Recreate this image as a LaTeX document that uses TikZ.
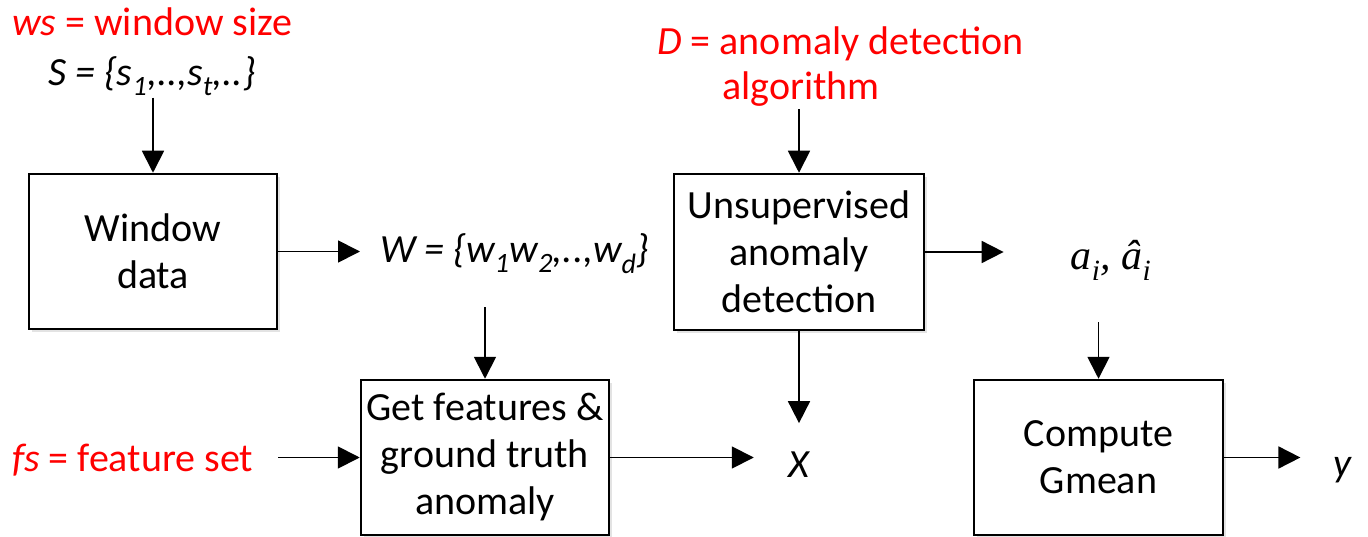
\documentclass[tikz,border=0pt]{standalone}
\usepackage{fontspec}
\setmainfont{Carlito}
\newfontfamily\mathlike{Liberation Serif}
\usetikzlibrary{arrows.meta,shadows}
\newcommand\bigf{\fontsize{40}{47}\selectfont}
\begin{document}
\begin{tikzpicture}[x=1pt,y=-1pt,
  box/.style={draw=black, line width=2.5pt, fill=white, align=center, font=\bigf,
    inner sep=0pt, drop shadow={opacity=0.22, shadow xshift=3pt, shadow yshift=-3pt}},
  lab/.style={font=\bigf, inner sep=2pt},
  redlab/.style={lab, text=red},
  arr/.style={line width=1.8pt, -{Triangle[length=22pt,width=22pt]}}]
\useasboundingbox (0,0) rectangle (1368,537);

% boxes
\node[box, minimum width=248pt, minimum height=155pt] (wd) at (153,251.5) {Window\\data};
\node[box, minimum width=248pt, minimum height=155pt] (gf) at (485,457.5) {Get features \&\\ground truth\\anomaly};
\node[box, minimum width=250pt, minimum height=156pt] (uad) at (799,252) {Unsupervised\\anomaly\\detection};
\node[box, minimum width=249pt, minimum height=155pt] (cg) at (1098.5,457.5) {Compute\\Gmean};

% labels
\node[redlab, anchor=base west] (ws) at (10,36) {\textit{ws} = window size};
\node[lab, anchor=base] (S) at (152,86) {\textit{S = \{s\textsubscript{1},..,s\textsubscript{t},..\}}};
\node[lab, anchor=base west] (W) at (378,263) {\textit{W = \{w\textsubscript{1}w\textsubscript{2},..,w\textsubscript{d}\}}};
\node[redlab, anchor=base west] (fs) at (10,471) {\textit{fs} = feature set};
\node[lab, anchor=base] (X) at (800,477) {\textit{X}};
\node[redlab, anchor=base west] (D1) at (655,55) {\textit{D} = anomaly detection};
\node[redlab, anchor=base west] (D2) at (720,100) {algorithm};
\node[lab, anchor=base, font=\mathlike\itshape\fontsize{42}{48}\selectfont] (a) at (1111,270) {a\textsubscript{i}, â\textsubscript{i}};
\node[lab, anchor=base] (y) at (1343,476) {\textit{y}};

% connectors
\draw[arr] (S.south -| wd.north) -- (wd.north);
\draw[arr] (wd.east) -- ([xshift=-18pt]W.west |- wd.east);
\draw[arr] ([yshift=-31pt]W.south -| gf.north) -- (gf.north);
\draw[arr] ([xshift=23pt]fs.east |- gf.west) -- (gf.west);
\draw[arr] (gf.east) -- ([xshift=-33pt]X.west |- gf.east);
\draw[arr] (D2.south -| uad.north) -- (uad.north);
\draw[arr] (uad.south) -- ([yshift=26pt]X.north -| uad.south);
\draw[arr] (uad.east) -- ([xshift=-65pt]a.west |- uad.east);
\draw[arr] ([yshift=-39pt]a.south -| cg.north) -- (cg.north);
\draw[arr] (cg.east) -- ([xshift=-31pt]y.west |- cg.east);
\end{tikzpicture}
\end{document}
